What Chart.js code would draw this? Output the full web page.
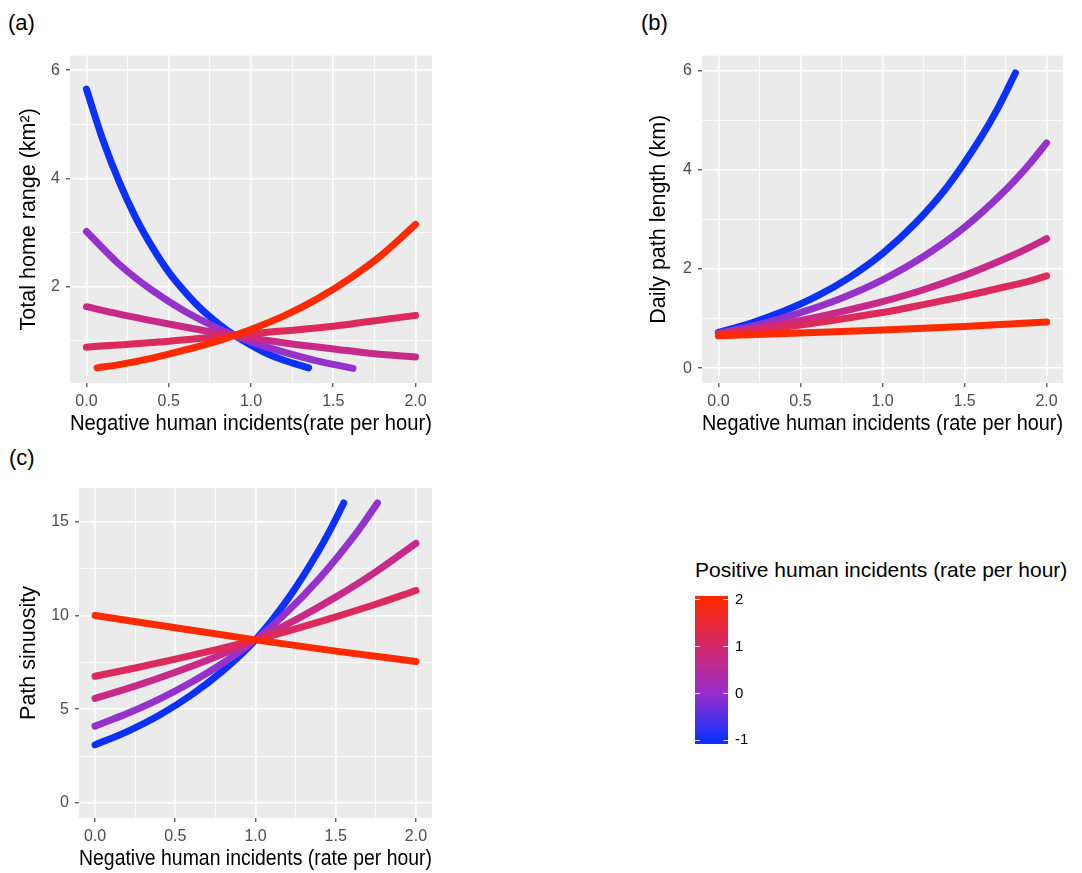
<!DOCTYPE html>
<html>
<head>
<meta charset="utf-8">
<script src="https://cdn.jsdelivr.net/npm/chart.js@4.4.1/dist/chart.umd.min.js"></script>
<style>
	body { margin: 0; background: #fff; width: 1082px; height: 873px; position: relative; overflow: hidden; font-family: "Liberation Sans", Arial, sans-serif; }
	.pnl { position: absolute; }
	.tag { position: absolute; font-size: 22px; color: #000; line-height: 26px; }
	#legTitle { position: absolute; left: 695px; top: 557px; font-size: 21px; line-height: 25px; color: #000; white-space: nowrap; }
</style>
</head>
<body>
<div class="tag" style="left:8px;top:10px">(a)</div>
<div class="tag" style="left:641px;top:10px">(b)</div>
<div class="tag" style="left:9px;top:445px">(c)</div>
<canvas id="chartA" class="pnl" style="left:0px;top:40px" width="445" height="400"></canvas>
<canvas id="chartB" class="pnl" style="left:630px;top:40px" width="452" height="400"></canvas>
<canvas id="chartC" class="pnl" style="left:0px;top:450px" width="445" height="423"></canvas>
<div id="legTitle">Positive human incidents (rate per hour)</div>
<canvas id="chartLeg" class="pnl" style="left:690px;top:580px" width="80" height="180"></canvas>
<script>
// colours of the five lines (blue = -1 ... red = 2)
var lineColors = ['#ff2a00', '#dc2a5c', '#c82a8a', '#9632cc', '#0c31ff'];

// x ticks (shared)
var xMajor = [0, 0.5, 1, 1.5, 2];
var xMinor = [0.25, 0.75, 1.25, 1.75];

// (a) total home range
var aRedX = [0.065, 0.2, 0.4, 0.6, 0.8, 1.0, 1.2, 1.4, 1.6, 1.8, 2.0];
var aRedY = [0.50, 0.56, 0.68, 0.83, 1.00, 1.21, 1.46, 1.77, 2.15, 2.60, 3.15];
var aCrimsonX = [0, 0.5, 1.0, 1.5, 2.0];
var aCrimsonY = [0.88, 0.99, 1.13, 1.27, 1.47];
var aMagentaX = [0, 0.25, 0.5, 0.75, 1.0, 1.25, 1.5, 1.75, 2.0];
var aMagentaY = [1.63, 1.46, 1.31, 1.17, 1.05, 0.94, 0.85, 0.76, 0.70];
var aPurpleX = [0, 0.2, 0.4, 0.6, 0.8, 0.9, 1.0, 1.2, 1.4, 1.62];
var aPurpleY = [3.02, 2.41, 1.93, 1.54, 1.23, 1.10, 0.98, 0.79, 0.63, 0.49];
var aBlueX = [0, 0.1, 0.2, 0.3, 0.4, 0.5, 0.6, 0.7, 0.8, 0.9, 1.0, 1.1, 1.2, 1.35];
var aBlueY = [5.65, 4.71, 3.93, 3.27, 2.73, 2.27, 1.90, 1.58, 1.32, 1.10, 0.92, 0.76, 0.64, 0.50];
var aYMajor = [2, 4, 6];
var aYMinor = [1, 3, 5];

// (b) daily path length
var bRedX = [0, 0.5, 1.0, 1.5, 2.0];
var bRedY = [0.65, 0.71, 0.77, 0.84, 0.93];
var bQuarterX = [0, 0.25, 0.5, 0.75, 1.0, 1.25, 1.5, 1.75, 1.9, 2.0];
var bCrimsonY = [0.68, 0.77, 0.87, 0.99, 1.12, 1.28, 1.45, 1.64, 1.76, 1.86];
var bMagentaY = [0.69, 0.81, 0.96, 1.14, 1.34, 1.58, 1.87, 2.21, 2.44, 2.61];
var bPurpleY = [0.70, 0.88, 1.12, 1.41, 1.78, 2.25, 2.84, 3.59, 4.13, 4.54];
var bBlueX = [0, 0.2, 0.4, 0.6, 0.8, 1.0, 1.2, 1.4, 1.6, 1.7, 1.81];
var bBlueY = [0.72, 0.91, 1.15, 1.45, 1.83, 2.31, 2.92, 3.68, 4.65, 5.22, 5.95];
var bYMajor = [0, 2, 4, 6];
var bYMinor = [1, 3, 5];

// (c) path sinuosity
var cRedX = [0, 0.5, 1.0, 1.5, 2.0];
var cRedY = [10.0, 9.35, 8.7, 8.1, 7.55];
var cQuarterX = [0, 0.25, 0.5, 0.75, 1.0, 1.25, 1.5, 1.75, 2.0];
var cCrimsonY = [6.76, 7.2, 7.67, 8.17, 8.7, 9.29, 9.93, 10.6, 11.33];
var cMagentaY = [5.58, 6.23, 6.97, 7.79, 8.7, 9.77, 10.98, 12.33, 13.85];
var cPurpleX = [0, 0.2, 0.4, 0.6, 0.8, 1.0, 1.2, 1.4, 1.6, 1.68, 1.76];
var cPurpleY = [4.1, 4.77, 5.54, 6.44, 7.48, 8.7, 10.21, 11.99, 14.07, 15.0, 16.0];
var cBlueX = [0, 0.2, 0.4, 0.6, 0.8, 1.0, 1.2, 1.4, 1.48, 1.55];
var cBlueY = [3.1, 3.81, 4.68, 5.76, 7.08, 8.7, 10.86, 13.55, 14.8, 16.0];
var cYMajor = [0, 5, 10, 15];
var cYMinor = [2.5, 7.5, 12.5];

// colour bar legend
var legTicks = [-1, 0, 1, 2];
var legStops = [[-1, '#0d31ff'], [0, '#9a2ecb'], [1, '#d4286c'], [2, '#ff2a00']];

var fontFam = '"Liberation Sans", Arial, sans-serif';

var panelBg = {
	id: 'panelBg',
	beforeDraw: function (chart) {
		var a = chart.chartArea;
		chart.ctx.save();
		chart.ctx.fillStyle = '#ebebeb';
		chart.ctx.fillRect(a.left, a.top, a.right - a.left, a.bottom - a.top);
		chart.ctx.restore();
	}
};

function pts(xs, ys) {
	return xs.map((x, i) => ({ x: x, y: ys[i] }));
}

function series(xs, ys, i) {
	return {
		data: pts(xs, ys),
		borderColor: lineColors[i],
		backgroundColor: lineColors[i],
		borderWidth: 7,
		borderCapStyle: 'round',
		borderJoinStyle: 'round',
		cubicInterpolationMode: 'monotone',
		pointRadius: 0,
		fill: false
	};
}

function makeAxis(min, max, major, minor, title, size, isX, fmt, titlePad) {
	var all = major.concat(minor).filter(v => v >= min && v <= max);
	var ax = {
		type: 'linear',
		min: min,
		max: max,
		afterBuildTicks: function (s) { s.ticks = all.map(v => ({ value: v })); },
		afterFit: function (s) { if (isX) s.height = size; else s.width = size; },
		border: { display: false },
		grid: {
			color: '#ffffff',
			lineWidth: c => major.includes(c.tick.value) ? 1.6 : 0.8,
			tickColor: c => major.includes(c.tick.value) ? '#333333' : 'rgba(0,0,0,0)',
			tickLength: 4,
			tickWidth: 1.1
		},
		ticks: {
			autoSkip: false,
			maxRotation: 0,
			padding: isX ? 5 : 6,
			color: '#4d4d4d',
			font: { family: fontFam, size: 16 },
			callback: v => major.includes(v) ? fmt(v) : ''
		},
		title: {
			display: true,
			text: title,
			color: '#000',
			font: { family: fontFam, size: 21.5 },
			padding: isX ? { top: 0, bottom: titlePad } : { top: titlePad, bottom: 0 }
		}
	};
	return ax;
}

function makePanel(id, datasets, pad, yAx, xAx) {
	return new Chart(document.getElementById(id).getContext('2d'), {
		type: 'line',
		data: { datasets: datasets },
		options: {
			responsive: false,
			animation: false,
			layout: { padding: pad },
			plugins: { legend: { display: false }, tooltip: { enabled: false } },
			scales: { x: xAx, y: yAx }
		},
		plugins: [panelBg]
	});
}

var fx = v => v.toFixed(1);
var fy = v => String(v);

makePanel('chartA', [
	series(aRedX, aRedY, 0),
	series(aCrimsonX, aCrimsonY, 1),
	series(aMagentaX, aMagentaY, 2),
	series(aPurpleX, aPurpleY, 3),
	series(aBlueX, aBlueY, 4)
], { left: 0, right: 13, top: 12, bottom: 0 },
	makeAxis(0.22, 6.27, aYMajor, aYMinor, 'Total home range (km\u00b2)', 70, false, fy, 16),
	makeAxis(-0.1, 2.1, xMajor, xMinor, 'Negative human incidents(rate per hour)', 57, true, fx, 3));

makePanel('chartB', [
	series(bRedX, bRedY, 0),
	series(bQuarterX, bCrimsonY, 1),
	series(bQuarterX, bMagentaY, 2),
	series(bQuarterX, bPurpleY, 3),
	series(bBlueX, bBlueY, 4)
], { left: 0, right: 19, top: 12, bottom: 0 },
	makeAxis(-0.3, 6.3, bYMajor, bYMinor, 'Daily path length (km)', 72, false, fy, 16),
	makeAxis(-0.1, 2.1, xMajor, xMinor, 'Negative human incidents (rate per hour)', 57, true, fx, 3));

makePanel('chartC', [
	series(cRedX, cRedY, 0),
	series(cQuarterX, cCrimsonY, 1),
	series(cQuarterX, cMagentaY, 2),
	series(cPurpleX, cPurpleY, 3),
	series(cBlueX, cBlueY, 4)
], { left: 0, right: 13, top: 38, bottom: 0 },
	makeAxis(-0.8, 16.8, cYMajor, cYMinor, 'Path sinuosity', 79, false, fy, 16),
	makeAxis(-0.1, 2.1, xMajor, xMinor, 'Negative human incidents (rate per hour)', 55, true, fx, 1));

// colour bar
new Chart(document.getElementById('chartLeg').getContext('2d'), {
	type: 'bar',
	data: {
		labels: [''],
		datasets: [{
			data: [[-1.08, 2.08]],
			categoryPercentage: 1,
			barPercentage: 1,
			borderWidth: 0,
			backgroundColor: function (c) {
				var ch = c.chart;
				if (!ch.chartArea) return '#9a2ecb';
				var y = ch.scales.y;
				var g = ch.ctx.createLinearGradient(0, y.getPixelForValue(-1.08), 0, y.getPixelForValue(2.08));
				var span = 3.16;
				g.addColorStop(0, legStops[0][1]);
				legStops.forEach(s => g.addColorStop((s[0] + 1.08) / span, s[1]));
				g.addColorStop(1, legStops[legStops.length - 1][1]);
				return g;
			}
		}]
	},
	options: {
		responsive: false,
		animation: false,
		layout: { padding: { left: 5, right: 0, top: 4, bottom: 9 } },
		plugins: { legend: { display: false }, tooltip: { enabled: false } },
		scales: {
			x: { display: false },
			y: {
				position: 'right',
				min: -1.08,
				max: 2.08,
				afterBuildTicks: function (s) { s.ticks = legTicks.map(v => ({ value: v })); },
				afterFit: function (s) { s.width = 42; },
				border: { display: false, dash: [5, 23.3] },
				grid: { color: 'rgba(255,255,255,0.85)', lineWidth: 1, z: 1, drawTicks: false },
				ticks: { padding: 7, color: '#000', font: { family: fontFam, size: 15 } }
			}
		}
	}
});
</script>
</body>
</html>
